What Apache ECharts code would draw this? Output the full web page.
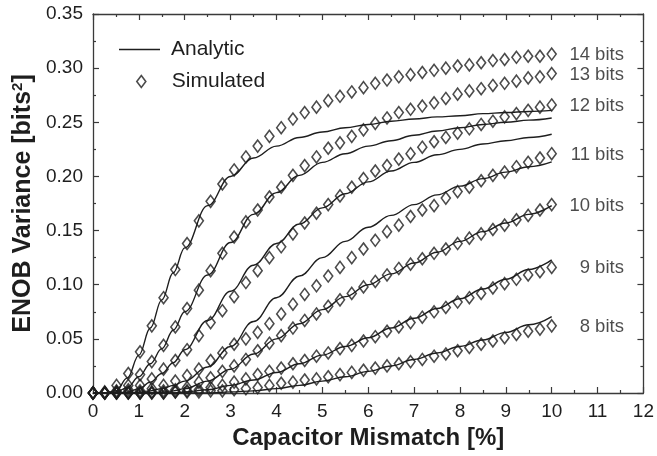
<!DOCTYPE html>
<html>
<head>
<meta charset="utf-8">
<script src="https://cdn.jsdelivr.net/npm/echarts@6.0.0/dist/echarts.min.js"></script>
<style>
  html, body { margin: 0; padding: 0; background: #fff; }
  #chart { width: 657px; height: 456px; }
</style>
</head>
<body>
<div id="chart"></div>
<script>
// Resolution labels, one per curve family (top to bottom)
const bitLabels = ['14 bits', '13 bits', '12 bits', '11 bits', '10 bits', '9 bits', '8 bits'];

// Capacitor mismatch [%] at which the Monte-Carlo runs were evaluated
const simX = [0, 0.256, 0.513, 0.769, 1.026, 1.282, 1.538, 1.795, 2.051, 2.308,
  2.564, 2.821, 3.077, 3.333, 3.590, 3.846, 4.103, 4.359, 4.615, 4.872,
  5.128, 5.385, 5.641, 5.897, 6.154, 6.410, 6.667, 6.923, 7.179, 7.436,
  7.692, 7.949, 8.205, 8.462, 8.718, 8.974, 9.231, 9.487, 9.744, 10];

// Simulated ENOB variance [bits^2]
const sim14 = [0, 0.001, 0.007, 0.018, 0.038, 0.062, 0.088, 0.114, 0.138, 0.159,
  0.177, 0.193, 0.206, 0.218, 0.228, 0.237, 0.245, 0.253, 0.259, 0.264,
  0.270, 0.274, 0.278, 0.282, 0.286, 0.289, 0.292, 0.294, 0.296, 0.298,
  0.300, 0.302, 0.303, 0.305, 0.307, 0.308, 0.310, 0.311, 0.311, 0.313];
const sim13 = [0, 0, 0.002, 0.007, 0.017, 0.029, 0.044, 0.061, 0.078, 0.095,
  0.113, 0.129, 0.144, 0.158, 0.169, 0.181, 0.190, 0.201, 0.210, 0.218,
  0.226, 0.231, 0.237, 0.243, 0.249, 0.254, 0.259, 0.262, 0.265, 0.268,
  0.272, 0.276, 0.279, 0.281, 0.284, 0.286, 0.288, 0.291, 0.292, 0.295];
const sim12 = [0, 0, 0.001, 0.003, 0.007, 0.013, 0.022, 0.030, 0.040, 0.053,
  0.065, 0.076, 0.089, 0.102, 0.113, 0.125, 0.135, 0.147, 0.157, 0.166,
  0.174, 0.182, 0.190, 0.198, 0.205, 0.210, 0.216, 0.221, 0.227, 0.232,
  0.236, 0.240, 0.244, 0.248, 0.251, 0.255, 0.258, 0.261, 0.264, 0.266];
const sim11 = [0, 0, 0, 0.001, 0.002, 0.004, 0.007, 0.011, 0.016, 0.022,
  0.030, 0.037, 0.045, 0.050, 0.056, 0.064, 0.073, 0.082, 0.091, 0.099,
  0.108, 0.116, 0.125, 0.133, 0.141, 0.149, 0.155, 0.163, 0.169, 0.173,
  0.180, 0.186, 0.190, 0.196, 0.201, 0.204, 0.209, 0.213, 0.217, 0.221];
const sim10 = [0, 0, 0, 0, 0, 0.001, 0.002, 0.003, 0.005, 0.010,
  0.014, 0.020, 0.025, 0.031, 0.039, 0.046, 0.053, 0.060, 0.067, 0.073,
  0.080, 0.086, 0.092, 0.098, 0.103, 0.109, 0.115, 0.119, 0.124, 0.129,
  0.133, 0.138, 0.143, 0.147, 0.151, 0.155, 0.160, 0.164, 0.169, 0.174];
const sim9 = [0, 0, 0, 0, 0, 0, 0, 0.001, 0.002, 0.003,
  0.005, 0.007, 0.010, 0.013, 0.017, 0.020, 0.023, 0.027, 0.030, 0.034,
  0.037, 0.041, 0.044, 0.048, 0.052, 0.057, 0.061, 0.065, 0.070, 0.075,
  0.079, 0.084, 0.088, 0.092, 0.097, 0.101, 0.105, 0.109, 0.112, 0.116];
const sim8 = [0, 0, 0, 0, 0, 0, 0, 0.001, 0.001, 0.001,
  0.002, 0.002, 0.003, 0.004, 0.005, 0.007, 0.009, 0.010, 0.012, 0.013,
  0.015, 0.017, 0.019, 0.021, 0.023, 0.025, 0.027, 0.029, 0.031, 0.034,
  0.036, 0.039, 0.042, 0.045, 0.048, 0.051, 0.054, 0.057, 0.059, 0.062];

// Analytic model, sampled along the mismatch axis
const anaX = [0, 0.25, 0.5, 0.75, 1, 1.25, 1.5, 1.75, 2, 2.5, 3, 3.5, 4, 4.5,
  5, 5.5, 6, 6.5, 7, 7.5, 8, 8.5, 9, 9.5, 10];
const ana14 = [0, 0, 0.002, 0.014, 0.035, 0.060, 0.086, 0.111, 0.134, 0.173, 0.200, 0.217, 0.228, 0.236,
  0.241, 0.245, 0.248, 0.251, 0.253, 0.255, 0.256, 0.258, 0.259, 0.260, 0.261];
const ana13 = [0, 0, 0.001, 0.005, 0.015, 0.027, 0.041, 0.058, 0.075, 0.109, 0.139, 0.165, 0.185, 0.201,
  0.213, 0.221, 0.228, 0.233, 0.238, 0.242, 0.245, 0.248, 0.250, 0.252, 0.254];
const ana12 = [0, 0, 0, 0.001, 0.004, 0.010, 0.018, 0.028, 0.040, 0.067, 0.094, 0.118, 0.138, 0.156,
  0.171, 0.184, 0.195, 0.205, 0.213, 0.220, 0.225, 0.230, 0.233, 0.236, 0.239];
const ana11 = [0, 0, 0, 0, 0.001, 0.002, 0.004, 0.007, 0.011, 0.024, 0.043, 0.066, 0.088, 0.108,
  0.125, 0.140, 0.153, 0.164, 0.174, 0.183, 0.191, 0.198, 0.204, 0.209, 0.2135];
const ana10 = [0, 0, 0, 0, 0, 0, 0.001, 0.002, 0.004, 0.011, 0.022, 0.036, 0.050, 0.064,
  0.077, 0.089, 0.100, 0.110, 0.120, 0.130, 0.140, 0.149, 0.157, 0.165, 0.173];
const ana9 = [0, 0, 0, 0, 0, 0, 0, 0, 0.001, 0.003, 0.007, 0.012, 0.019, 0.027,
  0.035, 0.043, 0.051, 0.060, 0.069, 0.078, 0.087, 0.096, 0.105, 0.114, 0.123];
const ana8 = [0, 0, 0, 0, 0, 0, 0, 0, 0, 0, 0.001, 0.002, 0.004, 0.007,
  0.011, 0.015, 0.020, 0.025, 0.031, 0.037, 0.043, 0.049, 0.056, 0.063, 0.0706];

// Axis tick values
const xTicks = [0, 1, 2, 3, 4, 5, 6, 7, 8, 9, 10, 11, 12];
const yTicks = [0, 0.05, 0.10, 0.15, 0.20, 0.25, 0.30, 0.35];

const simSets = [sim14, sim13, sim12, sim11, sim10, sim9, sim8];
const anaSets = [ana14, ana13, ana12, ana11, ana10, ana9, ana8];

const FONT = '"Liberation Sans", Arial, Helvetica, sans-serif';
const INK = '#1e1e1e';
const AXIS = '#3a3a3a';

function pairs(xs, ys) { return xs.map((x, i) => [x, ys[i]]); }

const series = [];
anaSets.forEach(function (ys) {
  series.push({
    name: 'Analytic',
    type: 'line',
    data: pairs(anaX, ys),
    symbol: 'none',
    smooth: 0.4,
    smoothMonotone: 'x',
    lineStyle: { color: INK, width: 1.4 },
    itemStyle: { color: INK },
    z: 3,
    silent: true
  });
});
simSets.forEach(function (ys, s) {
  const last = ys.length - 1;
  series.push({
    name: 'Simulated',
    type: 'scatter',
    symbol: 'diamond',
    symbolSize: [9, 12],
    itemStyle: { color: 'rgba(0,0,0,0)', borderColor: INK, borderWidth: 1.6 },
    data: simX.map(function (x, i) {
      const d = { value: [x, ys[i]] };
      if (i === last) {
        d.label = {
          show: true,
          formatter: bitLabels[s],
          position: 'right',
          distance: 0,
          align: 'right',
          offset: [67, 1],
          color: INK,
          fontFamily: FONT,
          fontSize: 18.5
        };
      }
      return d;
    }),
    z: 4,
    silent: true
  });
});

const baseX = {
  type: 'value',
  min: xTicks[0],
  max: xTicks[xTicks.length - 1],
  interval: 1,
  splitLine: { show: false },
  axisLine: { show: true, onZero: false, lineStyle: { color: AXIS, width: 1.3 } },
  axisTick: { show: true, inside: true, length: 6, lineStyle: { color: AXIS, width: 1.2 } },
  minorTick: { show: true, splitNumber: 2, length: 3, lineStyle: { color: AXIS, width: 1.2 } },
  minorSplitLine: { show: false }
};
const baseY = {
  type: 'value',
  min: yTicks[0],
  max: yTicks[yTicks.length - 1],
  interval: 0.05,
  splitLine: { show: false },
  axisLine: { show: true, onZero: false, lineStyle: { color: AXIS, width: 1.3 } },
  axisTick: { show: true, inside: true, length: 6, lineStyle: { color: AXIS, width: 1.2 } },
  minorTick: { show: true, splitNumber: 2, length: 3, lineStyle: { color: AXIS, width: 1.2 } },
  minorSplitLine: { show: false }
};

const option = {
  animation: false,
  backgroundColor: '#ffffff',
  textStyle: { fontFamily: FONT },
  grid: { left: 93, top: 14, width: 553, height: 379, containLabel: false },
  legend: [
    {
      data: [{ name: 'Analytic', icon: 'path://M0,0H41V1.4H0Z' }],
      orient: 'vertical',
      left: 114,
      top: 34,
      itemWidth: 41,
      itemHeight: 14,
      itemStyle: { color: INK, borderWidth: 0 },
      textStyle: { color: INK, fontSize: 21, fontFamily: FONT, padding: [0, 0, 0, 6] },
      selectedMode: false
    },
    {
      data: ['Simulated'],
      orient: 'vertical',
      left: 131,
      top: 66,
      itemWidth: 9,
      itemHeight: 12,
      symbolKeepAspect: false,
      itemStyle: { color: 'rgba(0,0,0,0)', borderColor: INK, borderWidth: 1.6 },
      textStyle: { color: INK, fontSize: 21, fontFamily: FONT, padding: [0, 0, 0, 21] },
      selectedMode: false
    }
  ],
  xAxis: [
    Object.assign({}, baseX, {
      position: 'bottom',
      name: 'Capacitor Mismatch [%]',
      nameLocation: 'middle',
      nameGap: 32,
      nameTextStyle: { color: INK, fontSize: 24, fontWeight: 'bold', fontFamily: FONT },
      axisLabel: { show: true, color: INK, fontSize: 19, margin: 9, fontFamily: FONT }
    }),
    Object.assign({}, baseX, {
      position: 'top',
      axisLabel: { show: false }
    })
  ],
  yAxis: [
    Object.assign({}, baseY, {
      position: 'left',
      name: '{t|ENOB Variance [bits}{s|2}{t|]}',
      nameLocation: 'middle',
      nameGap: 57,
      nameTextStyle: {
        rich: {
          t: { color: INK, fontSize: 25, fontWeight: 'bold', fontFamily: FONT },
          s: { color: INK, fontSize: 15, fontWeight: 'bold', fontFamily: FONT, verticalAlign: 'top', padding: [0, 0, 10, 0] }
        }
      },
      axisLabel: {
        show: true, color: INK, fontSize: 19, margin: 10, fontFamily: FONT,
        formatter: function (v) { return v.toFixed(2); }
      }
    }),
    Object.assign({}, baseY, {
      position: 'right',
      axisLabel: { show: false }
    })
  ],
  series: series
};

const chart = echarts.init(document.getElementById('chart'), null, { renderer: 'canvas' });
chart.setOption(option);
</script>
</body>
</html>
